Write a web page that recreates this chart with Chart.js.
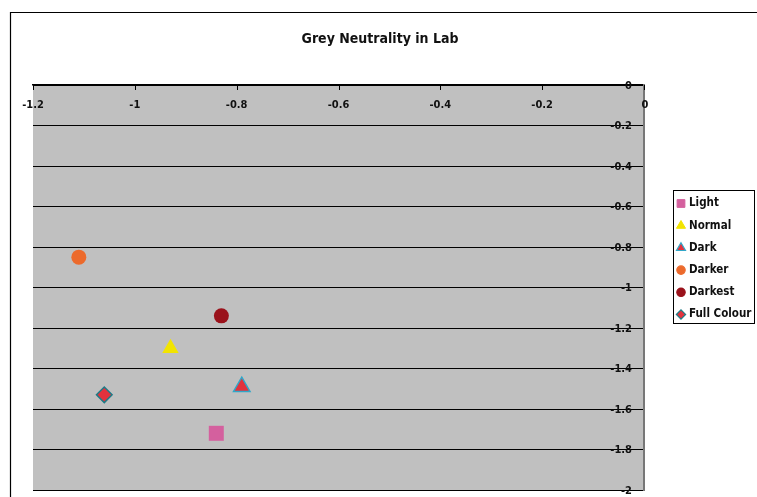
<!DOCTYPE html>
<html>
<head>
<meta charset="utf-8">
<title>Grey Neutrality in Lab</title>
<script src="https://cdn.jsdelivr.net/npm/chart.js@4/dist/chart.umd.min.js"></script>
<style>
  html, body { margin: 0; padding: 0; background: #ffffff; }
  #wrap { width: 757px; height: 497px; position: relative; }
</style>
</head>
<body>
<div id="wrap"><canvas id="chart" width="757" height="497"></canvas></div>
<script>
// Series names (a*, b* offsets of each grey patch)
const seriesNames = ['Light', 'Normal', 'Dark', 'Darker', 'Darkest', 'Full Colour'];
// a* values (horizontal)
const aValues = [-0.84, -0.93, -0.79, -1.11, -0.83, -1.06];
// b* values (vertical)
const bValues = [-1.72, -1.30, -1.49, -0.85, -1.14, -1.53];
// Axis tick values
const xTicks = [-1.2, -1, -0.8, -0.6, -0.4, -0.2, 0];
const yTicks = [0, -0.2, -0.4, -0.6, -0.8, -1, -1.2, -1.4, -1.6, -1.8, -2];
const chartTitle = 'Grey Neutrality in Lab';

const FONT = '"DejaVu Sans Condensed", "Liberation Sans Narrow", "Liberation Sans", sans-serif';

const styles = [
  { pointStyle: 'rect',     radius: 10.6, fill: '#D4609E', stroke: '#D4609E', bw: 0 },
  { pointStyle: 'triangle', radius: 9.5,  fill: '#F2E400', stroke: '#F2E400', bw: 0 },
  { pointStyle: 'triangle', radius: 9.5,  fill: '#E3323D', stroke: '#31A6C8', bw: 1.5 },
  { pointStyle: 'circle',   radius: 7.5,  fill: '#EC6A2C', stroke: '#EC6A2C', bw: 0 },
  { pointStyle: 'circle',   radius: 7.5,  fill: '#9A121B', stroke: '#9A121B', bw: 0 },
  { pointStyle: 'rectRot',  radius: 7.8,  fill: '#E3323D', stroke: '#1E7B87', bw: 1.5 }
];

const datasets = seriesNames.map((name, i) => ({
  label: name,
  data: [{ x: aValues[i], y: bValues[i] }],
  pointStyle: styles[i].pointStyle,
  pointRadius: styles[i].radius,
  pointHoverRadius: styles[i].radius,
  backgroundColor: styles[i].fill,
  borderColor: styles[i].stroke,
  borderWidth: styles[i].bw,
  showLine: false
}));

function fmt(v) {
  const r = Math.round(v * 10) / 10;
  return String(r === 0 ? 0 : r);
}

const framePlugin = {
  id: 'frame',
  beforeDraw(chart) {
    const { ctx, chartArea: a } = chart;
    ctx.save();
    ctx.fillStyle = '#ffffff';
    ctx.fillRect(0, 0, chart.width, chart.height);
    // outer chart border
    ctx.strokeStyle = '#000000';
    ctx.lineWidth = 1.2;
    ctx.beginPath();
    ctx.moveTo(10.5, chart.height);
    ctx.lineTo(10.5, 12.5);
    ctx.lineTo(chart.width, 12.5);
    ctx.stroke();
    // plot area
    ctx.fillStyle = '#C0C0C0';
    ctx.fillRect(a.left, a.top, a.right - a.left, a.bottom - a.top);
    ctx.restore();
  },
  afterDraw(chart) {
    const { ctx, chartArea: a } = chart;
    const xs = chart.scales.x, ys = chart.scales.y;
    ctx.save();

    // title
    ctx.fillStyle = '#111111';
    ctx.font = 'bold 14px ' + FONT;
    ctx.textAlign = 'center';
    ctx.textBaseline = 'middle';
    ctx.fillText(chartTitle, 380, 39);

    // x-axis tick marks pointing down from the top axis line
    ctx.strokeStyle = '#000000';
    ctx.lineWidth = 1;
    xTicks.forEach(v => {
      const px = Math.round(xs.getPixelForValue(v)) + 0.5;
      ctx.beginPath();
      ctx.moveTo(px, a.top);
      ctx.lineTo(px, a.top + 5);
      ctx.stroke();
    });

    // tick labels
    ctx.fillStyle = '#111111';
    ctx.font = 'bold 11px ' + FONT;
    ctx.textAlign = 'center';
    ctx.textBaseline = 'middle';
    xTicks.forEach(v => {
      ctx.fillText(fmt(v), xs.getPixelForValue(v) + (v === 0 ? 1 : 0), a.top + 20);
    });
    ctx.textAlign = 'right';
    yTicks.forEach(v => {
      ctx.fillText(fmt(v), a.right - 12, ys.getPixelForValue(v) + 1);
    });

    // legend
    const lx = 673.5, ly = 190.5, lw = 81, lh = 133;
    ctx.fillStyle = '#ffffff';
    ctx.fillRect(lx, ly, lw, lh);
    ctx.strokeStyle = '#000000';
    ctx.lineWidth = 1;
    ctx.strokeRect(lx, ly, lw, lh);
    const legendR = { rect: 5.5, triangle: 5.2, circle: 4.2, rectRot: 4.6 };
    ctx.font = 'bold 11.5px ' + FONT;
    ctx.textAlign = 'left';
    ctx.textBaseline = 'middle';
    chart.data.datasets.forEach((ds, i) => {
      const cy = 203.5 + i * 22.2;
      ctx.fillStyle = ds.backgroundColor;
      ctx.strokeStyle = ds.borderColor;
      ctx.lineWidth = ds.borderWidth ? 1.2 : 0;
      const opts = { pointStyle: ds.pointStyle, radius: legendR[ds.pointStyle], rotation: 0, borderWidth: ctx.lineWidth };
      if (Chart.helpers && Chart.helpers.drawPoint) {
        Chart.helpers.drawPoint(ctx, opts, 681, cy);
      } else {
        ctx.beginPath();
        ctx.arc(681, cy, 4, 0, Math.PI * 2);
        ctx.fill();
      }
      ctx.fillStyle = '#111111';
      ctx.fillText(ds.label, 689, cy);
    });

    ctx.restore();
  }
};

new Chart(document.getElementById('chart'), {
  type: 'scatter',
  data: { datasets },
  options: {
    responsive: false,
    animation: false,
    devicePixelRatio: 1,
    layout: { autoPadding: false, padding: { left: 33, top: 85, right: 113, bottom: 7 } },
    plugins: {
      legend: { display: false },
      title: { display: false },
      tooltip: { enabled: false }
    },
    scales: {
      x: {
        type: 'linear',
        position: 'top',
        min: -1.2,
        max: 0,
        ticks: { display: false, stepSize: 0.2 },
        grid: { display: false, drawTicks: false },
        border: { display: true, color: '#000000', width: 1.5 }
      },
      y: {
        type: 'linear',
        position: 'right',
        min: -2,
        max: 0,
        ticks: { display: false, stepSize: 0.2 },
        grid: { display: true, drawTicks: false, color: '#000000', lineWidth: 1 },
        border: { display: true, color: '#777777', width: 2 }
      }
    }
  },
  plugins: [framePlugin]
});
</script>
</body>
</html>
